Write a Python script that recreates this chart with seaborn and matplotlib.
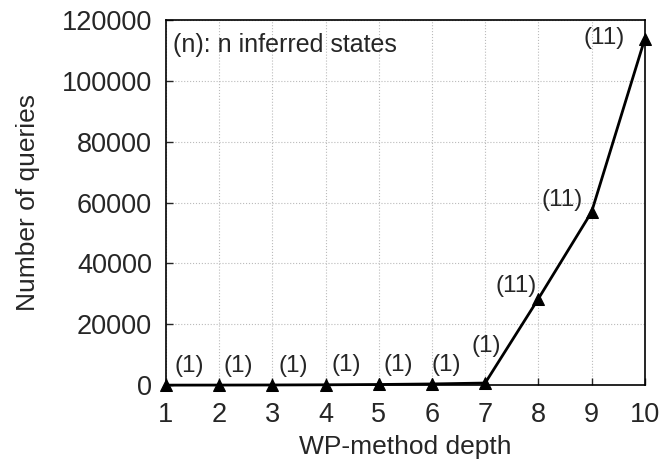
import numpy as np
import pandas as pd
import matplotlib
matplotlib.use("Agg")
import matplotlib.pyplot as plt
import seaborn as sns

depth = [1, 2, 3, 4, 5, 6, 7, 8, 9, 10]
queries = [10, 30, 60, 120, 220, 400, 700, 28400, 56900, 113800]
states = [1, 1, 1, 1, 1, 1, 1, 11, 11, 11]
# label offsets (points) for each point
offsets = [(17, 14), (14, 14), (15, 14), (15, 14), (14, 14), (10, 14),
           (1, 27), (-16, 9), (-21, 9), (-29, 1)]

sns.set_style("ticks")
plt.rcParams['font.family'] = ['Liberation Sans', 'DejaVu Sans']

df = pd.DataFrame({'depth': depth, 'queries': queries})

fig = plt.figure(figsize=(6.64, 4.68), dpi=100)
ax = fig.add_axes([0.25, 0.177, 0.721, 0.78])

sns.lineplot(data=df, x='depth', y='queries', ax=ax, color='black',
             linewidth=2, marker='^', markersize=8, markeredgecolor='black',
             clip_on=False, zorder=5)

for x, y, s, off in zip(depth, queries, states, offsets):
    ax.annotate(f'({s})', (x, y), xytext=off, textcoords='offset points',
                ha='center', va='center', fontsize=17.5)

ax.text(0.015, 0.965, '(n): n inferred states', transform=ax.transAxes,
        ha='left', va='top', fontsize=18)

ax.set_xlim(1, 10)
ax.set_ylim(0, 120000)
ax.set_xticks(depth)
ax.set_yticks(np.arange(0, 120001, 20000))
ax.tick_params(direction='in', labelsize=19.5, length=5, width=1, pad=10)
ax.tick_params(axis='x', pad=12)
ax.grid(True, linestyle=':', color='#bbbbbb', linewidth=0.8)
for sp in ax.spines.values():
    sp.set_visible(True)
    sp.set_linewidth(1.2)
    sp.set_color('black')
ax.set_xlabel('WP-method depth', fontsize=19, labelpad=5)
ax.set_ylabel('Number of queries', fontsize=19, labelpad=16)

fig.savefig('out.png', dpi=100)
